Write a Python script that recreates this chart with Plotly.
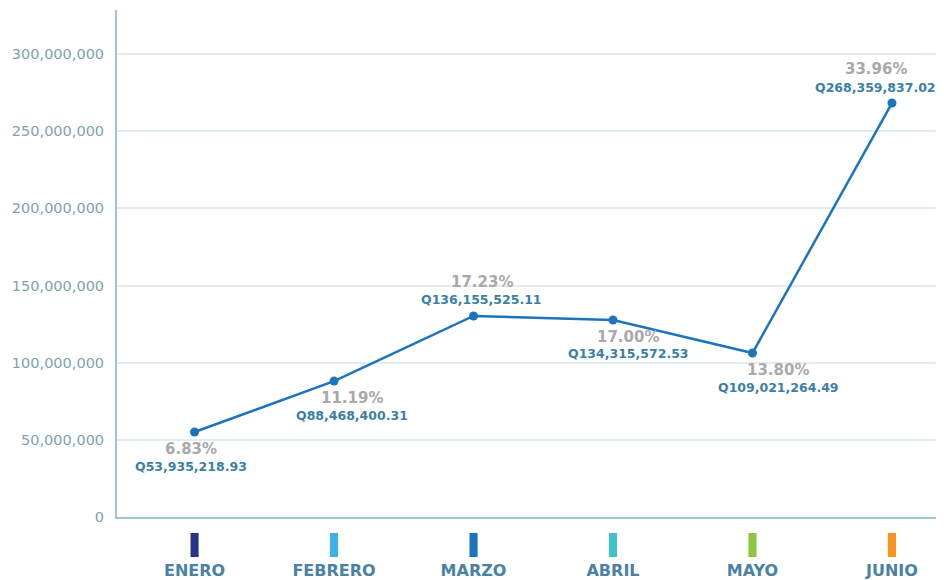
import plotly.graph_objects as go

months = ["ENERO", "FEBRERO", "MARZO", "ABRIL", "MAYO", "JUNIO"]
plotted_values = [55.1e6, 88.1e6, 130.3e6, 127.7e6, 106.3e6, 268.3e6]
amount_labels = ["Q53,935,218.93", "Q88,468,400.31", "Q136,155,525.11",
                 "Q134,315,572.53", "Q109,021,264.49", "Q268,359,837.02"]
pct_labels = ["6.83%", "11.19%", "17.23%", "17.00%", "13.80%", "33.96%"]
month_colors = ["#27348b", "#3db2ea", "#1b75bb", "#3fc1cf", "#8dc63f", "#f7941d"]
y_ticks = [0, 50e6, 100e6, 150e6, 200e6, 250e6, 300e6]
y_tick_text = ["0", "50,000,000", "100,000,000", "150,000,000",
               "200,000,000", "250,000,000", "300,000,000"]

label_side = ["below", "below", "above", "below", "below", "above"]
label_xshift = [-4, 18, 8, 15, 26, -16]

FONT = "DejaVu Sans"
LINE_COLOR = "#1a75bc"
AXIS_COLOR = "#9cc6d6"

fig = go.Figure()

fig.add_trace(go.Scatter(
    x=months, y=plotted_values, mode="lines+markers",
    line=dict(color=LINE_COLOR, width=2.5),
    marker=dict(color=LINE_COLOR, size=9),
    cliponaxis=False, showlegend=False, hoverinfo="skip",
    xaxis="x", yaxis="y",
))

fig.add_trace(go.Bar(
    x=months, y=[1] * len(months), marker=dict(color=month_colors, line=dict(width=0)),
    width=0.058, showlegend=False, hoverinfo="skip",
    xaxis="x", yaxis="y2",
))

annotations = []
for m, v, pct, amt, side, xs in zip(months, plotted_values, pct_labels,
                                    amount_labels, label_side, label_xshift):
    if side == "below":
        ys_pct, ys_amt = -17, -34
    else:
        ys_pct, ys_amt = 34, 16
    annotations.append(dict(
        x=m, y=v, xref="x", yref="y", text=pct, showarrow=False,
        yshift=ys_pct, xshift=xs, yanchor="middle",
        font=dict(family=FONT, size=15, color="#a9a9a9", weight="bold"),
    ))
    annotations.append(dict(
        x=m, y=v, xref="x", yref="y", text=amt, showarrow=False,
        yshift=ys_amt, xshift=xs, yanchor="middle",
        font=dict(family=FONT, size=12.5, color="#3b7fa6", weight="bold"),
    ))

# page body has a default 8px margin, so the figure is sized to fit the rest
fig.update_layout(
    width=936, height=572,
    margin=dict(l=109, r=0, t=2, b=0, autoexpand=False),
    paper_bgcolor="white", plot_bgcolor="white",
    font=dict(family=FONT),
    annotations=annotations,
    xaxis=dict(
        type="category", range=[-0.556, 5.373],
        showgrid=False, zeroline=False, automargin=False,
        showline=True, linecolor=AXIS_COLOR, linewidth=2,
        ticks="", ticklabelstandoff=38,
        tickfont=dict(family=FONT, size=16, color="#4a82a6", weight="bold"),
        anchor="y",
    ),
    yaxis=dict(
        domain=[0.1105, 1], range=[0, 328.6e6],
        tickvals=y_ticks, ticktext=y_tick_text, automargin=False,
        showgrid=True, gridcolor="#e2edf2", gridwidth=1.5,
        zeroline=False,
        showline=True, linecolor=AXIS_COLOR, linewidth=2,
        ticks="", ticklabelstandoff=8,
        tickfont=dict(family=FONT, size=14.5, color="#7fa2ae"),
    ),
    yaxis2=dict(
        domain=[0.0404, 0.0825], range=[0, 1],
        visible=False, anchor="x",
    ),
)

fig.write_html("out.html")
